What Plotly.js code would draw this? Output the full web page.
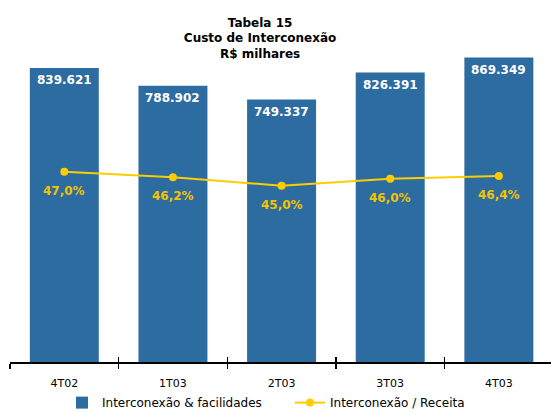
<!DOCTYPE html>
<html>
<head>
<meta charset="utf-8">
<script src="https://cdn.plot.ly/plotly-3.0.1.min.js"></script>
<style>html,body{margin:0;padding:0;background:#fff;}#chart{width:551px;height:412px;}</style>
</head>
<body>
<div id="chart"></div>
<script>
// Data
var categories = ["4T02", "1T03", "2T03", "3T03", "4T03"];
var custo = [839621, 788902, 749337, 826391, 869349];           // R$ milhares
var razao = [47.0, 46.2, 45.0, 46.0, 46.4];                     // Interconexão / Receita (%)
var seriesNames = ["Interconexão & facilidades", "Interconexão / Receita"];
var titleLines = ["Tabela 15", "Custo de Interconexão", "R$ milhares"];

var BLUE = "#2C6CA0", YELLOW = "#FFCC00", GOLD = "#F2C300";
var FONT = "DejaVu Sans, Verdana, sans-serif";

function fmtThousands(v) {
  return String(v).replace(/\B(?=(\d{3})+(?!\d))/g, ".");
}
function fmtPct(v) {
  return v.toFixed(1).replace(".", ",") + "%";
}

var traces = [
  {
    type: "bar", name: seriesNames[0],
    x: categories, y: custo,
    xaxis: "x", yaxis: "y",
    marker: {color: BLUE},
    width: 0.635,
    hoverinfo: "skip"
  },
  {
    type: "scatter", mode: "lines+markers", name: seriesNames[1],
    x: categories, y: razao,
    xaxis: "x2", yaxis: "y2",
    line: {color: YELLOW, width: 2},
    marker: {color: YELLOW, size: 8},
    hoverinfo: "skip"
  }
];

var annotations = [];
categories.forEach(function (c, i) {
  annotations.push({
    x: c, y: custo[i], xref: "x", yref: "y",
    text: fmtThousands(custo[i]), showarrow: false,
    yanchor: "middle", yshift: -12.5,
    font: {family: FONT, size: 12, color: "#ffffff", weight: "bold"}
  });
  annotations.push({
    x: c, y: razao[i], xref: "x2", yref: "y2",
    text: fmtPct(razao[i]), showarrow: false,
    yanchor: "middle", yshift: -19,
    font: {family: FONT, size: 12, color: GOLD, weight: "bold"}
  });
});

var xrange = [-0.5, 4.48];
var layout = {
  width: 551, height: 412,
  margin: {l: 10, r: 0, t: 50, b: 50},
  paper_bgcolor: "#ffffff", plot_bgcolor: "#ffffff",
  font: {family: FONT, size: 11, color: "#000000"},
  title: {
    text: titleLines.join("<br>"),
    font: {family: FONT, size: 12, color: "#000000", weight: "bold"},
    x: 0.472, xanchor: "center", xref: "container",
    y: 0.935, yanchor: "top", yref: "container"
  },
  showlegend: true,
  legend: {
    orientation: "h", xref: "container", yref: "container",
    x: 0.1125, xanchor: "left", y: 0.058, yanchor: "top",
    entrywidth: 183, entrywidthmode: "pixels",
    font: {family: FONT, size: 12, color: "#000000"},
    bgcolor: "rgba(0,0,0,0)", traceorder: "normal"
  },
  xaxis: {
    type: "category", range: xrange,
    categoryorder: "array", categoryarray: categories,
    showgrid: false, zeroline: false,
    showline: true, linecolor: "#000000", linewidth: 2,
    ticks: "outside", tickson: "boundaries", ticklen: 5, tickwidth: 1.5, tickcolor: "#000000",
    ticklabelstandoff: 10,
    tickfont: {family: FONT, size: 11, color: "#000000"},
    fixedrange: true
  },
  xaxis2: {
    type: "category", range: xrange, overlaying: "x", anchor: "y",
    categoryorder: "array", categoryarray: categories,
    showgrid: false, zeroline: false, showline: false,
    ticks: "inside", tickson: "boundaries", ticklen: 5, tickwidth: 1.5, tickcolor: "#000000",
    showticklabels: false, fixedrange: true
  },
  yaxis: {
    range: [0, 891000], visible: false, showgrid: false, zeroline: false, fixedrange: true
  },
  yaxis2: {
    range: [19.81, 64.39], overlaying: "y", side: "right", anchor: "x",
    visible: false, showgrid: false, zeroline: false, fixedrange: true
  },
  bargap: 0.365,
  annotations: annotations
};

Plotly.newPlot("chart", traces, layout, {displayModeBar: false, staticPlot: true});
</script>
</body>
</html>
